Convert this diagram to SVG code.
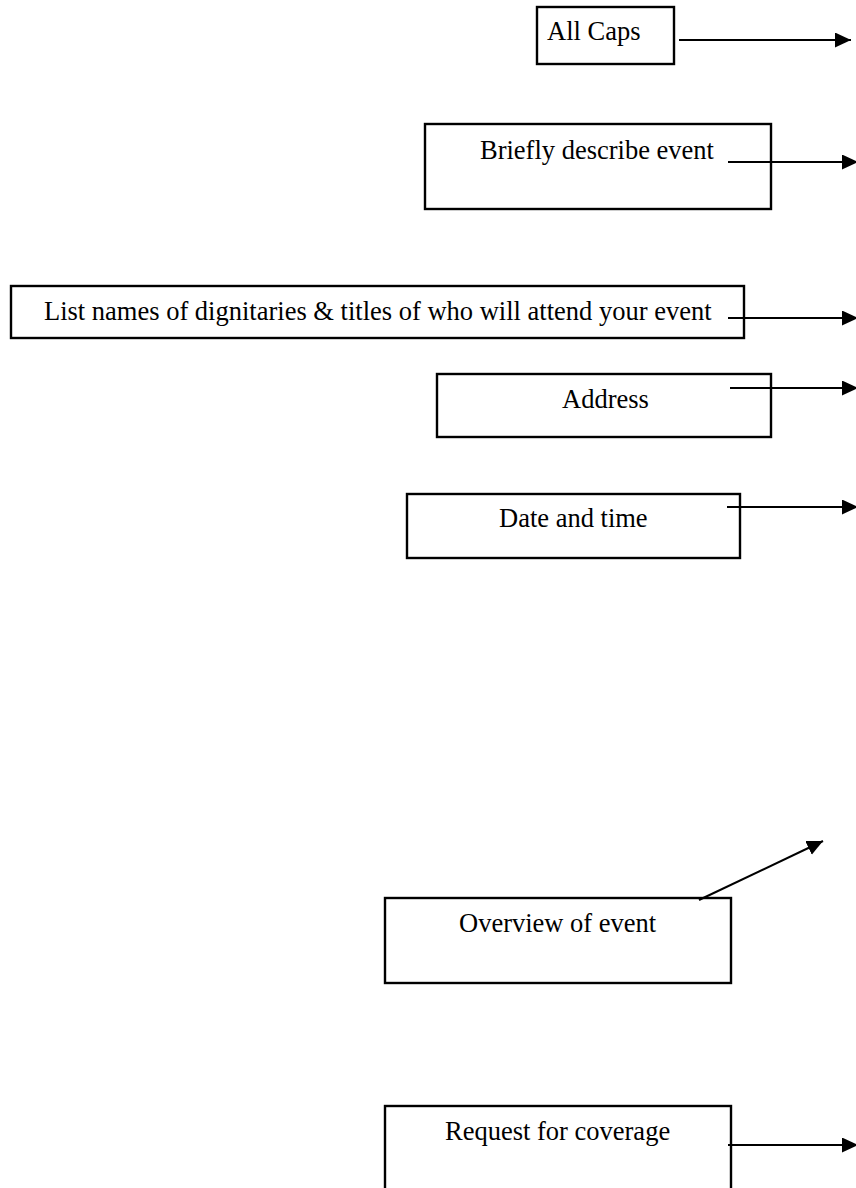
<svg xmlns="http://www.w3.org/2000/svg" width="856" height="1188" viewBox="0 0 856 1188">
<style>
.box{fill:none;stroke:#000;stroke-width:2.4}
.lbl{font-family:"Liberation Serif","Times New Roman",serif;font-size:26.5px;fill:#000}
.con{stroke:#000;stroke-width:2;fill:none}
</style>
<defs>
<marker id="ah" markerUnits="userSpaceOnUse" markerWidth="18" markerHeight="16" refX="16" refY="7.5" orient="auto">
<path d="M0,0 L16,7.5 L0,15 z" fill="#000"/>
</marker>
</defs>
<rect width="856" height="1188" fill="#fff"/>
<g id="n1"><rect class="box" x="537" y="7" width="137" height="57"/><text class="lbl" x="547" y="40">All Caps</text></g>
<g id="n2"><rect class="box" x="425" y="124" width="346" height="85"/><text class="lbl" x="480" y="159">Briefly describe event</text></g>
<g id="n3"><rect class="box" x="11" y="286" width="733" height="52"/><text class="lbl" x="44" y="320">List names of dignitaries &amp; titles of who will attend your event</text></g>
<g id="n4"><rect class="box" x="437" y="374" width="334" height="63"/><text class="lbl" x="562" y="408">Address</text></g>
<g id="n5"><rect class="box" x="407" y="494" width="333" height="64"/><text class="lbl" x="499" y="527">Date and time</text></g>
<g id="n6"><rect class="box" x="385" y="898" width="346" height="85"/><text class="lbl" x="459" y="932">Overview of event</text></g>
<g id="n7"><rect class="box" x="385" y="1106" width="346" height="90"/><text class="lbl" x="445" y="1140">Request for coverage</text></g>
<g id="connectors">
<line class="con" x1="679" y1="40" x2="851" y2="40" marker-end="url(#ah)"/>
<line class="con" x1="728" y1="162" x2="858" y2="162" marker-end="url(#ah)"/>
<line class="con" x1="728" y1="318" x2="858" y2="318" marker-end="url(#ah)"/>
<line class="con" x1="730" y1="388" x2="858" y2="388" marker-end="url(#ah)"/>
<line class="con" x1="727" y1="507" x2="858" y2="507" marker-end="url(#ah)"/>
<line class="con" x1="699" y1="900" x2="823" y2="841" marker-end="url(#ah)"/>
<line class="con" x1="728" y1="1145" x2="858" y2="1145" marker-end="url(#ah)"/>
</g>
</svg>
